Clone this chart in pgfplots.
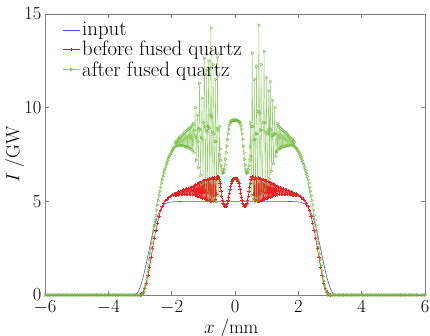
\RequirePackage{fix-cm}
\documentclass[border=0pt]{standalone}
\usepackage{fontspec}
\usepackage{pgfplots}
\pgfplotsset{compat=1.18}
\definecolor{cblue}{RGB}{70,90,200}
\definecolor{cred}{RGB}{235,35,35}
\definecolor{cgreen}{RGB}{110,185,60}
\definecolor{cgreenl}{RGB}{150,205,110}
\begin{document}
\begin{tikzpicture}
\path[use as bounding box] (-45pt,-41pt) rectangle (385pt,295pt);
\begin{axis}[
  at={(0,0)}, anchor=south west,
  scale only axis, width=380pt, height=281pt,
  xmin=-6, xmax=6, ymin=0, ymax=15,
  xtick={-6,-4,...,6}, ytick={0,5,10,15},
  tick align=inside, major tick length=4pt,
  axis line style={gray, line width=0.6pt},
  tick style={gray, line width=0.6pt},
  tick label style={font=\fontsize{18.5}{20}\selectfont},
  xticklabel style={yshift=-2.5pt},
  label style={font=\fontsize{19}{21}\selectfont},
  xlabel={$x$ /mm}, ylabel={$I$ /GW},
  xlabel style={at={(axis description cs:0.49,-0.12)}, anchor=center},
  ylabel style={at={(axis description cs:-0.08,0.5)}, anchor=center},
  legend style={draw=none, fill=none, at={(axis description cs:0.037,0.985)}, anchor=north west,
    font=\fontsize{20.8}{22}\selectfont, cells={anchor=west}, row sep=0pt},
  clip=true,
]
\addplot[color=cblue, line width=0.6pt] coordinates {
(-6,0)(-3.2,0)(-3.15,0.02)(-3.1,0.08)(-3.05,0.2)(-3.0,0.4)(-2.95,0.65)(-2.9,0.95)(-2.85,1.3)(-2.8,1.7)(-2.75,2.1)(-2.7,2.5)(-2.65,2.9)(-2.6,3.3)(-2.55,3.65)(-2.5,3.95)(-2.45,4.2)(-2.4,4.4)(-2.35,4.57)(-2.3,4.7)(-2.25,4.8)(-2.2,4.87)(-2.1,4.94)(-2.0,4.97)(-1.8,4.99)(-1.5,5.0)(1.5,5.0)(1.8,4.99)(2.0,4.97)(2.1,4.94)(2.2,4.87)(2.25,4.8)(2.3,4.7)(2.35,4.57)(2.4,4.4)(2.45,4.2)(2.5,3.95)(2.55,3.65)(2.6,3.3)(2.65,2.9)(2.7,2.5)(2.75,2.1)(2.8,1.7)(2.85,1.3)(2.9,0.95)(2.95,0.65)(3.0,0.4)(3.05,0.2)(3.1,0.08)(3.15,0.02)(3.2,0)(6,0)
};
\addlegendentry{input}
\addplot[color=cred, line width=0.6pt, mark=+, mark size=1.7pt, mark options={draw=cred}, forget plot] coordinates {
(-3.0,0)
(-2.95,0.05)(-2.9,0.15)(-2.85,0.35)(-2.8,0.65)(-2.75,1.05)(-2.7,1.5)(-2.65,2.0)(-2.6,2.5)(-2.55,3.0)(-2.5,3.45)(-2.45,3.85)(-2.4,4.2)(-2.35,4.5)(-2.3,4.72)(-2.25,4.9)(-2.2,5.03)(-2.15,5.12)(-2.1,5.2)(-2.05,5.26)
(-2.000,5.30)(-1.975,5.36)(-1.950,5.30)(-1.925,5.39)(-1.900,5.32)(-1.875,5.43)(-1.850,5.33)(-1.825,5.47)(-1.800,5.34)(-1.775,5.50)(-1.750,5.35)(-1.725,5.54)(-1.700,5.36)(-1.675,5.57)(-1.650,5.37)(-1.625,5.60)(-1.600,5.38)(-1.575,5.63)(-1.550,5.38)(-1.525,5.66)(-1.500,5.39)(-1.475,5.69)(-1.450,5.39)(-1.425,5.72)(-1.400,5.38)(-1.375,5.75)(-1.350,5.37)(-1.325,5.78)(-1.300,5.36)
(-1.28,5.85)(-1.26,5.33)(-1.24,5.88)(-1.22,5.30)(-1.20,5.92)(-1.18,5.28)(-1.16,5.96)(-1.14,5.25)(-1.12,6.00)(-1.10,5.22)(-1.08,6.02)(-1.06,5.20)(-1.04,6.05)(-1.02,5.18)(-1.00,6.08)(-0.98,5.15)(-0.96,6.10)(-0.94,5.12)(-0.92,6.12)(-0.90,5.10)(-0.88,6.15)(-0.86,5.08)(-0.84,6.18)(-0.82,5.05)(-0.80,6.20)(-0.78,5.02)(-0.76,6.22)(-0.74,5.00)(-0.72,6.25)(-0.70,5.00)(-0.68,6.22)(-0.66,5.05)(-0.64,6.28)(-0.62,5.10)(-0.60,6.20)(-0.58,5.4)(-0.56,6.30)
(-0.54,6.32)(-0.52,6.28)(-0.50,6.15)(-0.48,5.98)(-0.46,5.76)(-0.44,5.52)(-0.42,5.28)(-0.40,5.08)(-0.38,4.92)(-0.36,4.82)(-0.34,4.76)(-0.32,4.74)(-0.30,4.74)(-0.28,4.76)(-0.26,4.82)(-0.24,4.92)(-0.22,5.06)(-0.20,5.24)(-0.18,5.44)(-0.16,5.63)(-0.14,5.8)(-0.12,5.95)(-0.10,6.06)(-0.08,6.14)(-0.06,6.19)(-0.04,6.22)(-0.02,6.23)(0,6.23)
(0.02,6.23)(0.04,6.22)(0.06,6.19)(0.08,6.14)(0.10,6.06)(0.12,5.95)(0.14,5.8)(0.16,5.63)(0.18,5.44)(0.20,5.24)(0.22,5.06)(0.24,4.92)(0.26,4.82)(0.28,4.76)(0.30,4.74)(0.32,4.74)(0.34,4.76)(0.36,4.82)(0.38,4.92)(0.40,5.08)(0.42,5.28)(0.44,5.52)(0.46,5.76)(0.48,5.98)(0.50,6.15)(0.52,6.28)(0.54,6.32)
(0.56,6.30)(0.58,5.4)(0.60,6.20)(0.62,5.10)(0.64,6.28)(0.66,5.05)(0.68,6.22)(0.70,5.00)(0.72,6.25)(0.74,5.00)(0.76,6.22)(0.78,5.02)(0.80,6.20)(0.82,5.05)(0.84,6.18)(0.86,5.08)(0.88,6.15)(0.90,5.10)(0.92,6.12)(0.94,5.12)(0.96,6.10)(0.98,5.15)(1.00,6.08)(1.02,5.18)(1.04,6.05)(1.06,5.20)(1.08,6.02)(1.10,5.22)(1.12,6.00)(1.14,5.25)(1.16,5.96)(1.18,5.28)(1.20,5.92)(1.22,5.30)(1.24,5.88)(1.26,5.33)(1.28,5.85)
(1.300,5.36)(1.325,5.78)(1.350,5.37)(1.375,5.75)(1.400,5.38)(1.425,5.72)(1.450,5.39)(1.475,5.69)(1.500,5.39)(1.525,5.66)(1.550,5.38)(1.575,5.63)(1.600,5.38)(1.625,5.60)(1.650,5.37)(1.675,5.57)(1.700,5.36)(1.725,5.54)(1.750,5.35)(1.775,5.50)(1.800,5.34)(1.825,5.47)(1.850,5.33)(1.875,5.43)(1.900,5.32)(1.925,5.39)(1.950,5.30)(1.975,5.36)(2.000,5.30)
(2.05,5.26)(2.1,5.2)(2.15,5.12)(2.2,5.03)(2.25,4.9)(2.3,4.72)(2.35,4.5)(2.4,4.2)(2.45,3.85)(2.5,3.45)(2.55,3.0)(2.6,2.5)(2.65,2.0)(2.7,1.5)(2.75,1.05)(2.8,0.65)(2.85,0.35)(2.9,0.15)(2.95,0.05)
(3.0,0)
};
\addlegendimage{color=red, line width=0.9pt, mark=+, mark size=1.8pt, mark options={draw=red}}
\addlegendentry{before fused quartz}
\addplot[color=cgreenl, line width=0.4pt, mark=triangle, mark size=1.7pt, mark options={rotate=-90, draw=cgreen}] coordinates {
(-6,0)(-5.95,0)(-5.9,0)(-5.85,0)(-5.8,0)(-5.75,0)(-5.7,0)(-5.65,0)(-5.6,0)(-5.55,0)(-5.5,0)(-5.45,0)(-5.4,0)(-5.35,0)(-5.3,0)(-5.25,0)(-5.2,0)(-5.15,0)(-5.1,0)(-5.05,0)(-5.0,0)(-4.95,0)(-4.9,0)(-4.85,0)(-4.8,0)(-4.75,0)(-4.7,0)(-4.65,0)(-4.6,0)(-4.55,0)(-4.5,0)(-4.45,0)(-4.4,0)(-4.35,0)(-4.3,0)(-4.25,0)(-4.2,0)(-4.15,0)(-4.1,0)(-4.05,0)(-4.0,0)(-3.95,0)(-3.9,0)(-3.85,0)(-3.8,0)(-3.75,0)(-3.7,0)(-3.65,0)(-3.6,0)(-3.55,0)(-3.5,0)(-3.45,0)(-3.4,0)(-3.35,0)(-3.3,0)(-3.25,0)(-3.2,0)(-3.15,0)(-3.1,0)(-3.05,0)(-3.0,0)
(-2.95,0)(-2.925,0.03)(-2.9,0.1)(-2.875,0.2)(-2.85,0.35)(-2.825,0.53)(-2.8,0.75)(-2.775,1.0)(-2.75,1.3)(-2.725,1.6)(-2.7,1.9)(-2.675,2.2)(-2.65,2.5)(-2.625,2.8)(-2.6,3.1)(-2.575,3.4)(-2.55,3.7)(-2.525,3.98)(-2.5,4.25)(-2.475,4.53)(-2.45,4.8)(-2.425,5.05)(-2.4,5.3)(-2.375,5.53)(-2.35,5.75)(-2.325,5.96)(-2.3,6.15)(-2.275,6.33)(-2.25,6.5)(-2.225,6.66)(-2.2,6.8)(-2.175,6.93)(-2.15,7.05)(-2.125,7.18)(-2.1,7.3)(-2.075,7.4)(-2.05,7.5)(-2.025,7.58)(-2.0,7.65)(-1.975,7.73)(-1.95,7.8)(-1.925,7.86)
(-1.90,7.90)(-1.88,8.15)(-1.86,7.95)(-1.84,8.22)(-1.82,7.98)(-1.80,8.30)(-1.78,8.00)(-1.76,8.38)(-1.74,8.00)(-1.72,8.45)(-1.70,8.00)(-1.68,8.52)(-1.66,7.98)(-1.64,8.60)(-1.62,7.96)(-1.60,8.66)(-1.58,7.94)(-1.56,8.72)(-1.54,7.92)(-1.52,8.78)(-1.50,7.90)(-1.48,8.84)(-1.46,7.86)(-1.44,8.90)(-1.42,7.82)(-1.40,8.96)(-1.38,7.78)(-1.36,9.05)(-1.34,7.70)(-1.32,9.15)(-1.30,7.60)
(-1.28,8.8)(-1.26,10.0)(-1.245,8.5)(-1.225,7.2)
(-1.21,8.4)(-1.19,9.6)(-1.175,8.2)(-1.155,6.8)
(-1.14,8.9)(-1.12,11.3)(-1.105,8.8)(-1.085,6.4)
(-1.065,8.4)(-1.045,10.5)(-1.03,8.3)(-1.01,6.0)
(-0.99,9.2)(-0.965,12.65)(-0.95,9.0)(-0.93,5.7)
(-0.915,8.8)(-0.895,12.0)(-0.88,8.7)(-0.865,5.5)
(-0.85,9.0)(-0.83,12.5)(-0.815,8.9)(-0.795,5.3)
(-0.78,9.6)(-0.76,14.25)(-0.745,9.5)(-0.725,5.1)
(-0.71,8.7)(-0.69,12.3)(-0.675,8.6)(-0.655,5.0)
(-0.64,8.2)(-0.62,11.5)(-0.605,8.2)(-0.585,5.0)
(-0.57,8.9)(-0.55,12.7)(-0.535,8.8)(-0.515,5.3)
(-0.50,7.5)(-0.485,9.0)(-0.47,7.8)
(-0.46,7.2)(-0.44,6.9)(-0.42,6.7)(-0.40,6.55)(-0.38,6.5)(-0.36,6.55)(-0.34,6.7)(-0.32,6.95)(-0.30,7.25)(-0.28,7.6)(-0.26,7.95)(-0.24,8.3)(-0.22,8.6)(-0.20,8.85)(-0.18,9.05)(-0.16,9.17)(-0.14,9.24)(-0.12,9.28)(-0.10,9.3)(-0.08,9.31)(-0.06,9.32)(-0.04,9.33)(-0.02,9.33)(0,9.33)
(0.02,9.33)(0.04,9.33)(0.06,9.32)(0.08,9.31)(0.10,9.3)(0.12,9.28)(0.14,9.24)(0.16,9.17)(0.18,9.05)(0.20,8.85)(0.22,8.6)(0.24,8.3)(0.26,7.95)(0.28,7.6)(0.30,7.25)(0.32,6.95)(0.34,6.7)(0.36,6.55)(0.38,6.5)(0.40,6.55)(0.42,6.7)(0.44,6.9)(0.46,7.2)
(0.47,7.9)(0.485,9.2)(0.50,7.4)(0.515,5.3)
(0.53,9.0)(0.545,12.9)(0.56,9.0)(0.58,5.1)
(0.595,8.3)(0.61,11.5)(0.625,8.3)(0.645,5.0)
(0.66,8.6)(0.68,12.2)(0.695,8.6)(0.715,5.05)
(0.735,9.8)(0.755,14.4)(0.77,9.7)(0.79,5.2)
(0.805,8.8)(0.825,12.3)(0.84,8.8)(0.86,5.4)
(0.90,9.2)(0.92,13.0)(0.935,9.2)(0.955,5.6)
(0.97,8.7)(0.99,11.6)(1.005,8.6)(1.025,5.9)
(1.045,8.8)(1.065,10.9)(1.08,8.6)(1.085,6.2)
(1.10,8.9)(1.115,11.4)(1.13,8.8)(1.15,6.6)
(1.165,8.5)(1.18,10.4)(1.195,8.5)(1.215,7.0)
(1.235,8.6)(1.255,10.0)(1.27,8.6)(1.285,7.4)
(1.30,7.6)(1.32,9.15)(1.34,7.70)(1.36,9.05)(1.38,7.78)(1.40,8.96)(1.42,7.82)(1.44,8.90)(1.46,7.86)(1.48,8.84)(1.50,7.90)(1.52,8.78)(1.54,7.92)(1.56,8.72)(1.58,7.94)(1.60,8.66)(1.62,7.96)(1.64,8.60)(1.66,7.98)(1.68,8.52)(1.70,8.00)(1.72,8.45)(1.74,8.00)(1.76,8.38)(1.78,8.00)(1.80,8.30)(1.82,7.98)(1.84,8.22)(1.86,7.95)(1.88,8.15)(1.90,7.90)
(1.925,7.86)(1.95,7.8)(1.975,7.73)(2.0,7.65)(2.025,7.58)(2.05,7.5)(2.075,7.4)(2.1,7.3)(2.125,7.18)(2.15,7.05)(2.175,6.93)(2.2,6.8)(2.225,6.66)(2.25,6.5)(2.275,6.33)(2.3,6.15)(2.325,5.96)(2.35,5.75)(2.375,5.53)(2.4,5.3)(2.425,5.05)(2.45,4.8)(2.475,4.53)(2.5,4.25)(2.525,3.98)(2.55,3.7)(2.575,3.4)(2.6,3.1)(2.625,2.8)(2.65,2.5)(2.675,2.2)(2.7,1.9)(2.725,1.6)(2.75,1.3)(2.775,1.0)(2.8,0.75)(2.825,0.53)(2.85,0.35)(2.875,0.2)(2.9,0.1)(2.925,0.03)(2.95,0)
(3.0,0)(3.05,0)(3.1,0)(3.15,0)(3.2,0)(3.25,0)(3.3,0)(3.35,0)(3.4,0)(3.45,0)(3.5,0)(3.55,0)(3.6,0)(3.65,0)(3.7,0)(3.75,0)(3.8,0)(3.85,0)(3.9,0)(3.95,0)(4.0,0)(4.05,0)(4.1,0)(4.15,0)(4.2,0)(4.25,0)(4.3,0)(4.35,0)(4.4,0)(4.45,0)(4.5,0)(4.55,0)(4.6,0)(4.65,0)(4.7,0)(4.75,0)(4.8,0)(4.85,0)(4.9,0)(4.95,0)(5.0,0)(5.05,0)(5.1,0)(5.15,0)(5.2,0)(5.25,0)(5.3,0)(5.35,0)(5.4,0)(5.45,0)(5.5,0)(5.55,0)(5.6,0)(5.65,0)(5.7,0)(5.75,0)(5.8,0)(5.9,0)(5.95,0)(6.0,0)
};
\addlegendentry{after fused quartz}
\end{axis}
\end{tikzpicture}
\end{document}
